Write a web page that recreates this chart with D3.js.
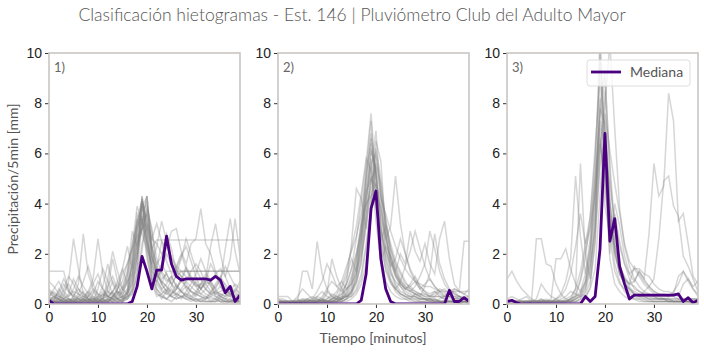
<!DOCTYPE html>
<html>
<head>
<meta charset="utf-8">
<script src="https://cdn.jsdelivr.net/npm/d3@7"></script>
<style>
  body { margin: 0; background: #fff; }
  svg { font-family: Lato, "Open Sans", sans-serif; }
  .tick text { font-size: 14px; fill: #222; }
  .tick line { stroke: #333; }
  .domain { display: none; }
  .grey { fill: none; stroke: #808080; stroke-opacity: 0.32; stroke-width: 1.5; }
  .median { fill: none; stroke: #4b0082; stroke-width: 2.8; stroke-linejoin: round; }
</style>
</head>
<body>
<svg id="chart" width="704" height="352"></svg>
<script>
// minutes (time steps) and tick labels
let time = d3.range(40)
let xTicks = [0, 10, 20, 30]
let yTicks = [0, 2, 4, 6, 8, 10]
let panelNames = ["1)", "2)", "3)"]

// medians
let median1 = [0.15,0,0,0,0,0,0,0,0,0,0,0,0,0,0,0,0,0.1,0.7,1.9,1.3,0.6,1.35,1.35,2.7,1.6,1.1,0.95,1.0,1.0,1.0,1.0,1.0,0.95,1.1,0.95,0.45,0.7,0.1,0.35]
let median2 = [0,0,0,0,0,0,0,0,0,0,0,0,0,0,0,0,0,0.15,1.2,3.8,4.5,1.8,0.6,0.1,0,0,0,0,0,0,0,0,0,0,0,0.55,0.1,0.1,0.25,0.1]
let median3 = [0.1,0.15,0.05,0,0,0,0,0,0,0,0,0,0,0,0,0,0.3,0.1,0.3,2.2,6.8,2.5,3.4,1.5,0.8,0.2,0.35,0.35,0.35,0.35,0.35,0.35,0.35,0.35,0.35,0.4,0.1,0.25,0.05,0.15]

// hietograms of group 1
let group1 = [
  [1.3,1.3,1.3,1.3,0.5,0.3,0.2,0.1,0.1,0.2,0.3,0.5,0.3,0.2,0.4,0.6,0.9,1.2,2.1,3.6,2.4,1.5,1.1,1.3,1.0,0.8,1.1,1.3,1.3,1.3,1.3,1.3,1.3,1.3,1.3,1.3,1.3,1.3,1.3,1.3],
  [0.2,0.1,0.6,0.3,0.9,2.6,1.4,0.4,0.2,0.1,0.1,0.2,0.3,0.5,0.2,0.1,0.4,0.8,1.6,4.3,2.2,1.0,0.6,0.4,0.6,0.3,0.2,0.3,0.4,0.2,0.1,0.2,0.3,0.1,0.1,0.2,0.1,0.1,0.2,0.1],
  [0.1,0.1,0.1,0.2,0.1,0.3,0.8,2.8,1.2,0.6,0.3,0.2,0.4,0.9,0.5,0.3,0.2,0.6,2.0,3.2,4.3,2.0,1.1,0.9,0.7,0.4,0.6,1.0,0.8,0.5,0.4,0.3,0.2,0.3,0.2,0.1,0.1,0.2,0.1,0.1],
  [0.5,0.4,0.3,0.2,0.1,0.1,0.2,0.3,0.5,1.0,2.6,1.2,0.5,0.3,0.6,1.4,2.3,1.4,3.1,3.9,2.7,1.6,2.3,3.3,2.5,1.8,1.4,1.9,2.3,1.7,1.1,0.6,0.9,1.6,1.2,0.7,0.4,0.3,0.2,0.2],
  [0.0,0.0,0.1,0.1,0.1,0.0,0.1,0.2,0.1,0.1,0.1,0.1,0.2,0.1,0.3,0.5,0.8,1.5,2.8,4.1,3.2,2.2,2.55,2.55,2.55,2.55,2.55,2.55,2.55,2.55,2.55,2.55,2.55,2.55,2.55,2.55,2.55,2.55,2.55,2.55],
  [0.3,0.2,0.2,0.1,0.1,0.1,0.1,0.1,0.2,0.1,0.1,0.2,0.6,1.8,0.9,0.6,1.2,2.9,2.3,3.4,2.5,1.8,1.4,2.5,2.2,2.9,3.0,2.1,1.6,2.4,2.6,3.8,2.4,2.0,1.3,0.9,2.2,3.4,2.1,1.2],
  [0.1,0.1,0.2,0.4,0.2,0.1,0.3,0.5,0.2,0.1,0.2,0.4,0.2,0.5,0.8,0.3,0.5,1.0,2.5,3.0,3.6,2.3,1.5,1.0,1.2,0.8,0.4,0.6,0.9,0.7,0.5,0.8,1.0,0.7,0.4,0.5,0.6,0.4,0.2,0.1],
  [0.2,0.3,0.2,0.1,0.0,0.1,0.1,0.0,0.1,0.4,0.9,0.6,0.3,0.2,0.1,0.2,0.3,0.5,1.2,2.1,3.9,3.0,1.3,0.8,0.5,0.3,0.4,0.3,0.2,0.1,0.2,0.2,0.1,0.1,0.1,0.3,0.5,0.4,0.2,0.3],
  [0.1,0.2,0.5,1.0,0.6,0.2,0.1,0.2,0.1,0.0,0.1,0.1,0.2,0.1,0.1,0.1,0.4,1.1,2.3,4.2,2.6,1.2,0.5,0.2,0.5,1.0,1.4,1.1,0.6,0.3,0.2,0.1,0.2,0.4,0.8,1.1,0.7,0.4,0.5,0.9],
  [0.1,0.0,0.0,0.1,0.1,0.2,0.2,0.1,0.1,0.3,0.2,0.1,0.1,0.3,0.6,1.2,1.6,2.2,2.7,3.0,3.2,2.6,2.4,2.0,2.3,1.9,1.5,1.3,1.1,0.9,0.7,0.8,0.6,0.4,0.5,0.3,0.2,0.2,0.1,0.1],
  [0.4,0.3,0.1,0.1,0.2,0.1,0.0,0.1,0.3,0.2,0.2,0.1,0.1,0.2,0.1,0.1,0.2,0.6,1.5,4.3,3.1,1.0,0.9,1.4,2.0,1.6,1.3,1.1,0.9,1.3,1.6,1.3,0.8,0.9,1.2,1.4,1.1,1.8,3.4,1.9],
  [0.1,0.1,0.1,0.1,0.2,0.2,0.4,0.2,0.1,0.1,0.6,1.4,0.9,0.4,0.2,0.1,0.3,0.8,1.9,3.7,4.0,2.1,1.3,0.8,0.5,0.7,1.2,1.8,2.6,2.0,1.4,1.0,0.6,0.4,0.3,0.2,0.1,0.1,0.1,0.0],
  [0.0,0.1,0.1,0.3,0.2,0.1,0.1,0.1,0.2,0.2,0.1,0.3,0.5,0.4,0.2,0.3,1.0,2.0,3.0,3.5,2.0,0.8,0.3,0.4,0.2,0.1,0.3,0.5,0.7,0.5,0.3,0.6,0.9,0.8,0.3,0.2,0.1,0.1,0.1,0.1],
  [0.2,0.2,0.3,0.6,1.1,0.8,0.4,0.3,0.2,0.1,0.1,0.1,0.2,0.3,0.5,0.4,0.6,1.2,2.4,2.9,3.8,2.9,1.8,1.2,0.9,1.1,0.7,0.5,0.4,0.3,0.5,0.4,0.3,0.2,0.2,0.4,0.3,0.7,0.5,0.3],
  [0.1,0.1,0.1,0.0,0.1,0.2,0.1,0.1,0.1,0.1,0.2,0.2,0.1,0.1,0.2,0.3,0.4,0.9,1.9,3.1,4.3,2.4,1.0,0.6,0.4,0.3,0.2,0.3,0.2,0.2,0.1,0.1,0.1,0.1,0.1,0.1,0.0,0.1,0.0,0.0],
  [0.6,0.4,0.2,0.1,0.1,0.1,0.2,0.2,0.4,0.2,0.1,0.1,0.1,0.2,0.2,0.1,0.2,0.4,1.2,3.3,3.6,1.7,0.6,0.3,0.2,0.4,0.6,1.0,1.5,1.1,0.8,0.6,1.0,2.3,3.2,2.0,1.1,0.6,0.4,0.3],
  [0.1,0.1,0.2,0.1,0.1,0.1,0.1,0.1,0.1,0.2,0.1,0.1,0.1,0.1,0.1,0.2,0.5,1.6,3.4,2.8,2.2,1.6,1.2,0.9,0.7,0.5,0.4,0.3,0.3,0.2,0.2,0.1,0.1,0.1,0.2,0.1,0.1,0.1,0.1,0.1],
  [0.3,0.5,0.3,0.2,0.1,0.1,0.1,0.2,0.1,0.1,0.1,0.1,0.1,0.3,0.5,0.2,0.3,0.4,1.0,2.4,3.1,1.9,1.2,0.8,1.3,1.3,1.3,1.3,1.3,1.3,1.3,1.3,1.3,1.3,1.3,1.3,1.3,1.3,1.3,1.3],
  [0.3,0.6,0.9,0.5,0.3,0.6,1.1,0.7,0.4,0.8,1.2,0.6,0.3,0.5,0.9,1.4,0.8,1.6,3.0,4.0,2.8,1.3,0.9,0.6,0.8,1.1,0.7,0.5,0.3,0.6,0.9,0.6,0.4,0.3,0.5,0.7,0.4,0.3,0.6,0.4],
  [0.9,0.7,0.4,0.2,0.3,0.5,0.4,0.9,1.5,0.8,0.4,0.3,0.7,1.1,0.6,0.9,1.6,2.2,3.3,4.2,3.0,2.2,1.6,1.9,2.8,2.2,1.3,0.9,0.7,0.5,0.4,0.8,1.2,0.8,0.5,0.4,0.3,0.5,0.8,0.6],
  [0.1,0.3,0.2,0.5,0.8,0.4,0.2,0.1,0.3,0.6,0.4,0.2,1.0,2.1,1.3,0.6,0.4,1.4,2.6,3.8,4.3,1.9,1.1,1.6,1.2,0.8,0.6,0.9,1.4,1.0,0.7,0.4,0.6,0.9,0.6,0.3,0.2,0.4,0.3,0.2],
  [0.2,0.1,0.1,0.2,0.4,1.0,0.6,0.3,0.2,0.1,0.3,0.7,1.6,0.8,0.4,0.2,0.5,1.9,3.6,3.2,2.4,1.4,0.8,0.5,0.4,0.6,0.3,0.2,0.5,0.8,1.2,1.8,1.3,0.9,0.6,1.0,1.5,1.1,0.7,0.4],
  [0.5,0.3,0.4,0.8,0.5,0.3,0.6,0.4,0.3,0.5,0.2,0.4,0.3,0.2,0.4,0.7,1.3,2.4,3.2,4.1,3.4,2.6,3.2,2.5,1.7,1.2,1.5,2.0,1.4,1.0,0.8,0.6,0.8,0.5,0.7,1.0,0.8,0.5,0.3,0.4],
  [0.0,0.1,0.1,0.1,0.2,0.1,0.3,0.2,0.5,0.3,0.1,0.2,0.1,0.3,0.2,0.5,1.1,2.3,3.9,3.3,1.8,0.9,0.4,0.3,0.2,0.4,0.8,0.5,0.3,0.2,0.4,0.3,0.2,0.5,0.4,0.3,0.2,0.1,0.2,0.1]
]

// hietograms of group 2
let group2 = [
  [0.3,0.3,0.3,0.1,0.0,0.1,0.1,0.1,0.2,0.1,0.1,0.2,0.3,0.4,0.8,1.4,2.6,4.1,5.6,7.6,5.0,3.1,1.8,1.0,0.6,0.4,0.3,0.2,0.2,0.1,0.1,0.1,0.2,0.1,0.1,0.1,0.1,0.0,0.1,0.1],
  [0.0,0.0,0.0,0.0,0.1,1.3,1.3,0.6,2.5,1.2,0.6,0.3,0.2,0.1,0.2,0.5,1.1,2.3,4.3,6.1,5.4,3.0,1.6,0.9,0.5,0.3,0.2,0.2,0.4,0.3,0.2,0.1,0.1,0.1,0.1,0.1,0.0,0.0,0.1,0.0],
  [0.1,0.1,0.1,0.1,0.1,0.1,0.2,0.3,0.2,0.1,0.4,1.8,1.1,0.6,0.3,0.5,0.9,1.6,3.2,5.3,6.9,4.1,2.2,1.3,0.7,0.4,0.3,0.2,0.1,0.1,0.1,0.2,0.1,0.1,0.1,0.1,0.1,0.1,0.1,0.0],
  [0.0,0.0,0.1,0.1,0.0,0.1,0.1,0.2,0.1,0.1,0.1,0.1,0.2,0.2,0.9,2.4,4.6,4.2,3.0,5.1,4.0,2.5,3.1,2.2,1.6,1.2,0.8,0.7,0.5,0.4,0.3,0.2,0.2,0.1,0.1,0.1,0.1,0.1,0.1,0.1],
  [0.1,0.1,0.0,0.0,0.1,0.1,0.1,0.1,0.1,0.2,0.1,0.1,0.1,0.2,0.3,0.4,0.8,1.7,3.6,6.2,5.2,3.5,2.6,3.1,5.1,3.2,2.0,1.4,1.0,0.7,0.5,0.4,0.5,0.4,0.3,0.3,0.2,0.2,0.2,0.1],
  [0.2,0.1,0.1,0.1,0.1,0.1,0.1,0.1,0.1,0.1,0.1,0.1,0.1,0.1,0.2,0.3,0.6,1.2,2.4,4.0,5.9,4.4,2.8,1.7,1.3,2.0,1.6,2.9,2.1,1.7,2.4,1.6,1.2,2.6,3.3,1.8,0.8,0.5,2.5,2.5],
  [0.1,0.1,0.1,0.1,0.1,0.2,0.2,0.1,0.1,0.3,0.6,0.9,0.7,0.5,0.8,1.4,2.0,2.9,4.6,5.8,4.1,3.0,1.9,1.2,0.9,0.7,0.4,0.3,0.3,0.2,0.2,0.1,0.2,0.1,0.1,0.1,0.1,0.1,0.1,0.1],
  [0.0,0.0,0.0,0.1,0.1,0.1,0.1,0.2,0.3,0.2,0.1,0.1,0.2,0.4,0.6,0.8,1.2,2.0,3.5,4.9,5.4,4.3,3.4,2.2,1.5,1.0,0.7,0.5,0.4,0.3,0.7,1.2,2.8,1.6,1.0,0.6,0.4,0.3,0.2,0.2],
  [0.1,0.1,0.1,0.1,0.1,0.1,0.1,0.1,0.1,0.1,0.1,0.2,0.3,0.2,0.4,0.7,1.5,3.3,5.0,6.4,4.5,2.4,1.3,0.8,0.6,0.9,1.5,2.1,2.9,2.2,1.5,1.0,0.7,0.5,0.6,0.4,0.3,0.2,0.2,0.1],
  [0.0,0.0,0.0,0.0,0.0,0.1,0.1,0.1,0.2,0.1,0.1,0.1,0.1,0.2,0.4,0.9,1.8,3.0,4.5,5.0,4.7,3.9,2.7,1.8,1.1,0.7,0.5,0.4,0.3,0.2,0.2,0.2,0.1,0.1,0.1,0.1,0.1,0.1,0.1,0.1],
  [0.1,0.1,0.0,0.0,0.1,0.1,0.2,0.1,0.1,0.2,0.5,0.3,0.2,0.6,1.1,1.8,1.3,2.2,3.9,4.6,6.2,5.0,3.2,2.4,1.7,1.3,0.9,0.6,0.4,0.3,0.2,0.2,0.3,0.5,0.4,0.3,0.6,0.5,0.4,0.3],
  [0.0,0.0,0.0,0.1,0.1,0.0,0.1,0.1,0.1,0.1,0.1,0.1,0.1,0.1,0.2,0.4,1.1,2.8,5.3,7.3,4.2,1.9,0.9,0.5,0.3,0.2,0.2,0.1,0.1,0.1,0.1,0.0,0.1,0.1,0.0,0.1,0.1,0.0,0.1,0.0],
  [0.1,0.1,0.1,0.1,0.1,0.1,0.1,0.1,0.1,0.1,0.1,0.2,0.2,0.3,0.3,0.5,0.9,1.9,3.1,4.4,4.8,4.2,3.6,2.9,2.3,1.8,1.4,1.1,0.9,0.8,0.7,0.7,0.6,0.5,0.5,0.5,0.5,0.5,0.5,0.5],
  [0.1,0.1,0.1,0.0,0.1,0.1,0.1,0.1,0.1,0.1,0.1,0.1,0.1,0.2,0.3,0.3,0.5,1.0,2.2,3.9,6.5,5.7,2.8,1.4,0.8,0.5,0.4,0.3,0.3,0.2,0.2,0.2,0.1,0.1,0.1,0.1,0.1,0.1,0.1,0.1],
  [0.0,0.0,0.0,0.0,0.0,0.0,0.0,0.0,0.1,0.1,0.2,0.4,0.3,0.2,0.5,1.0,1.8,2.7,4.2,5.5,3.3,1.7,2.3,1.9,1.4,0.9,0.6,0.7,0.9,0.6,0.4,0.3,0.5,0.3,0.2,0.1,0.1,0.1,0.1,0.1],
  [0.1,0.1,0.1,0.1,0.2,0.1,0.1,0.1,0.1,0.1,0.1,0.1,0.1,0.1,0.1,0.2,0.4,0.8,1.6,3.5,5.6,4.8,3.3,2.0,1.3,0.8,0.6,0.5,0.4,0.4,0.3,0.3,0.3,0.3,0.2,0.2,0.2,0.2,0.2,0.2],
  [0.0,0.1,0.1,0.1,0.3,0.6,0.4,0.2,0.5,0.9,1.6,1.2,0.7,0.9,1.5,2.1,2.7,3.6,5.2,6.6,5.1,3.4,2.2,1.6,1.1,0.8,0.6,0.8,1.1,0.7,0.5,0.3,0.4,0.6,0.5,0.3,0.2,0.3,0.2,0.1],
  [0.1,0.0,0.0,0.1,0.1,0.2,0.1,0.1,0.3,0.5,0.3,0.2,0.4,0.7,1.3,2.2,3.1,4.4,5.8,5.3,3.8,2.9,2.1,1.5,1.8,2.6,2.0,1.3,0.9,0.6,0.8,1.0,0.7,0.5,0.3,0.4,0.5,0.3,0.2,0.3],
  [0.2,0.2,0.1,0.0,0.0,0.1,0.1,0.1,0.1,0.2,0.1,0.1,0.2,0.2,0.3,0.6,1.3,2.5,4.1,5.6,6.0,4.6,3.0,1.9,1.2,0.8,0.6,0.5,0.7,1.1,1.6,2.9,2.2,1.3,0.8,0.5,0.4,0.3,0.2,0.2],
  [0.0,0.0,0.0,0.0,0.1,0.1,0.1,0.1,0.1,0.1,0.2,0.3,0.5,0.9,0.6,0.8,1.5,2.6,4.8,6.8,5.2,2.6,1.4,0.9,0.6,0.4,0.3,0.3,0.2,0.2,0.2,0.1,0.1,0.2,0.3,0.5,0.6,0.5,0.4,0.6],
  [0.1,0.1,0.1,0.1,0.1,0.1,0.1,0.1,0.1,0.1,0.1,0.1,0.1,0.3,0.6,1.1,2.0,3.2,4.0,4.3,4.5,3.8,2.6,1.7,1.2,0.9,0.7,0.6,0.5,0.4,0.4,0.3,0.3,0.3,0.3,0.3,0.3,0.3,0.3,0.3]
]

// hietograms of group 3
let group3 = [
  [1.0,1.3,0.9,0.6,0.4,0.2,0.1,0.1,0.1,0.1,0.1,0.1,0.1,0.2,0.3,0.5,1.2,2.6,5.4,10.5,6.0,2.7,1.3,0.8,0.6,0.4,0.3,0.2,0.2,0.1,0.1,0.1,0.1,0.1,0.1,0.1,0.1,0.1,0.1,0.1],
  [0.1,0.1,0.1,0.2,0.3,0.1,2.6,2.6,1.6,1.5,0.8,0.4,0.2,0.1,0.3,0.9,1.8,3.5,6.3,8.9,6.6,3.3,1.6,0.9,0.5,0.3,0.2,0.2,0.1,0.1,0.1,0.1,0.1,0.1,0.1,0.1,0.1,0.1,0.0,0.0],
  [0.0,0.0,0.0,0.1,0.1,0.1,0.1,0.2,0.1,0.1,0.2,0.4,0.9,1.8,5.1,2.7,1.2,2.3,4.5,7.8,7.2,4.0,2.2,1.2,0.8,0.6,0.4,0.3,0.2,0.2,0.1,0.1,0.1,0.1,0.1,0.1,0.1,0.1,0.1,0.1],
  [0.1,0.1,0.1,0.1,0.1,0.1,0.1,0.1,0.1,0.1,0.1,0.1,0.1,0.2,0.6,5.6,2.0,1.0,3.2,7.4,9.0,5.6,3.0,1.6,1.0,0.7,0.4,0.3,0.3,0.2,0.2,0.2,0.2,0.1,0.1,0.1,0.1,0.1,0.1,0.1],
  [0.0,0.0,0.0,0.0,0.1,0.1,0.1,0.1,0.1,0.1,0.1,0.1,0.1,0.1,0.2,0.4,0.8,1.6,3.1,6.2,7.9,10.4,7.0,3.8,2.3,1.5,1.0,0.7,0.5,0.4,0.3,0.2,0.2,0.2,0.1,0.1,0.1,0.1,0.1,0.1],
  [0.1,0.1,0.1,0.1,0.1,0.1,0.1,0.1,0.2,0.1,0.1,0.2,0.3,0.5,0.4,0.3,0.6,1.5,2.8,5.5,6.8,4.1,2.4,1.5,1.1,0.8,0.9,1.3,1.0,2.8,5.6,4.3,4.7,8.4,7.3,3.3,3.6,2.4,1.1,0.8],
  [0.1,0.1,0.0,0.0,0.1,0.1,0.1,0.1,0.1,0.2,1.8,1.8,2.2,1.4,0.8,0.5,0.9,2.0,3.9,6.4,5.1,3.5,2.0,1.3,0.9,0.6,0.4,0.3,0.5,0.7,1.0,2.6,4.9,5.1,3.9,3.5,1.9,1.5,1.0,0.5],
  [0.1,0.1,0.1,0.1,0.1,0.1,0.1,0.1,0.1,0.1,0.1,0.1,0.1,0.1,0.1,0.2,0.5,1.3,3.6,8.2,5.4,2.0,4.0,3.1,1.9,1.2,1.4,1.1,0.8,0.6,0.4,0.3,0.2,0.2,0.1,0.1,0.1,0.1,0.1,0.1],
  [0.0,0.0,0.0,0.0,0.0,0.0,0.0,0.1,0.1,0.1,0.1,0.1,0.1,0.1,0.2,0.3,0.7,1.9,4.4,7.0,3.9,2.7,3.6,2.5,1.6,1.0,0.6,0.5,0.4,0.4,0.3,0.3,0.3,0.3,0.4,1.1,1.3,1.0,0.7,0.9],
  [0.1,0.1,0.1,0.1,0.1,0.1,0.1,0.1,0.1,0.1,0.1,0.1,0.1,0.1,0.2,0.3,0.4,0.9,2.4,5.9,8.5,4.0,2.2,1.2,0.8,0.5,0.4,0.3,0.3,0.2,0.2,0.2,0.2,0.2,0.2,0.2,0.2,0.2,0.2,0.2],
  [0.2,0.3,0.2,0.1,0.1,0.1,0.2,0.8,0.5,0.3,0.2,0.1,0.1,0.2,0.4,1.0,2.1,3.0,4.4,6.6,4.6,3.1,2.3,1.5,1.0,0.8,0.7,0.5,0.4,0.3,0.2,0.2,0.2,0.1,0.1,0.1,0.1,0.1,0.1,0.1],
  [0.0,0.0,0.0,0.0,0.0,0.1,0.1,0.1,0.1,0.1,0.1,0.1,0.1,0.1,0.1,0.1,0.2,0.7,2.6,10.5,5.2,1.8,0.8,0.5,0.3,0.2,0.2,0.1,0.1,0.1,0.1,0.1,0.1,0.1,0.1,0.1,0.1,0.1,0.1,0.1],
  [0.1,0.1,0.1,0.1,0.1,0.1,0.1,0.1,0.1,0.1,0.1,0.1,0.1,0.1,0.1,0.2,0.3,0.6,1.4,4.3,7.6,6.1,4.8,3.6,2.4,1.7,1.4,1.4,1.2,1.1,0.8,0.6,0.5,0.5,0.4,0.3,0.8,1.0,0.6,0.3],
  [0.1,0.1,0.1,0.1,0.1,0.1,0.1,0.1,0.1,0.1,0.1,0.1,0.2,0.3,0.6,1.3,2.4,3.5,5.8,9.6,7.0,3.7,2.0,1.2,0.8,0.6,0.5,0.4,0.3,0.3,0.3,0.2,0.2,0.2,0.2,0.2,0.2,0.2,0.2,0.2],
  [0.0,0.0,0.0,0.0,0.0,0.1,0.1,0.1,0.1,0.1,0.2,0.3,0.6,1.2,2.3,3.6,2.4,3.1,5.0,7.3,6.1,4.8,3.3,2.3,1.6,1.2,0.9,1.3,1.0,0.7,0.5,0.4,0.4,0.3,0.5,0.8,1.3,0.9,0.6,0.4],
  [0.1,0.1,0.1,0.1,0.1,0.1,0.1,0.2,0.1,0.1,0.1,0.1,0.1,0.2,0.3,0.4,0.9,2.2,4.9,7.9,9.3,5.3,2.6,1.5,1.0,0.8,1.5,1.2,0.9,0.7,0.5,0.4,0.3,0.3,0.3,0.2,0.2,0.2,0.2,0.2]
]

let groups = [group1, group2, group3]
let medians = [median1, median2, median3]

// panel layout
let panelLeft = [49, 278, 507]
let panelWidth = 191
let plotTop = 53, plotBottom = 304

let svg = d3.select("#chart")

function make_scales(left) {
  return {
    x: d3.scaleLinear().domain([0, 39]).range([left, left + panelWidth]),
    y: d3.scaleLinear().domain([0, 10]).range([plotBottom, plotTop])
  }
}

function draw_panel(i) {
  let scales = make_scales(panelLeft[i])
  let g = svg.append("g")

  g.append("clipPath").attr("id", "clip" + i)
    .append("rect")
    .attr("x", panelLeft[i]).attr("y", plotTop)
    .attr("width", panelWidth).attr("height", plotBottom - plotTop)

  let line = d3.line()
    .x((d, t) => scales.x(time[t]))
    .y(d => scales.y(d))

  let lines = g.append("g").attr("clip-path", `url(#clip${i})`)
  lines.selectAll("path.grey")
    .data(groups[i]).enter()
    .append("path")
    .attr("class", "grey")
    .attr("d", line)

  lines.append("path")
    .attr("class", "median")
    .attr("d", line(medians[i]))

  // axes
  g.append("g")
    .attr("transform", `translate(0, ${plotBottom})`)
    .call(d3.axisBottom(scales.x).tickValues(xTicks).tickSize(4).tickPadding(4))
  g.append("g")
    .attr("transform", `translate(${panelLeft[i]}, 0)`)
    .call(d3.axisLeft(scales.y).tickValues(yTicks).tickSize(4).tickPadding(3))

  // frame
  g.append("rect")
    .attr("x", panelLeft[i]).attr("y", plotTop)
    .attr("width", panelWidth).attr("height", plotBottom - plotTop)
    .attr("fill", "none")
    .attr("stroke", "#c9c5c2")
    .attr("stroke-width", 1.6)

  g.append("text")
    .attr("x", panelLeft[i] + 5).attr("y", plotTop + 19)
    .attr("fill", "#666").attr("font-size", 13)
    .text(panelNames[i])
}

[0, 1, 2].forEach(draw_panel)

// title and axis labels
svg.append("text")
  .attr("x", 352).attr("y", 21)
  .attr("text-anchor", "middle")
  .attr("fill", "#555").attr("font-size", 17.5).attr("font-weight", 300)
  .text("Clasificación hietogramas - Est. 146 | Pluviómetro Club del Adulto Mayor")

svg.append("text")
  .attr("transform", "translate(18, 179) rotate(-90)")
  .attr("text-anchor", "middle")
  .attr("fill", "#555").attr("font-size", 14)
  .text("Precipitación/5min [mm]")

svg.append("text")
  .attr("x", 373).attr("y", 343)
  .attr("text-anchor", "middle")
  .attr("fill", "#555").attr("font-size", 14)
  .text("Tiempo [minutos]")

// legend
let legend = svg.append("g")
legend.append("rect")
  .attr("x", 587).attr("y", 60).attr("width", 103).attr("height", 26).attr("rx", 3)
  .attr("fill", "#fff").attr("fill-opacity", 0.8)
  .attr("stroke", "#ddd")
legend.append("line")
  .attr("x1", 591).attr("x2", 621).attr("y1", 72).attr("y2", 72)
  .attr("stroke", "#4b0082").attr("stroke-width", 2.8)
legend.append("text")
  .attr("x", 630).attr("y", 77)
  .attr("fill", "#555").attr("font-size", 14)
  .text("Mediana")
</script>
</body>
</html>
